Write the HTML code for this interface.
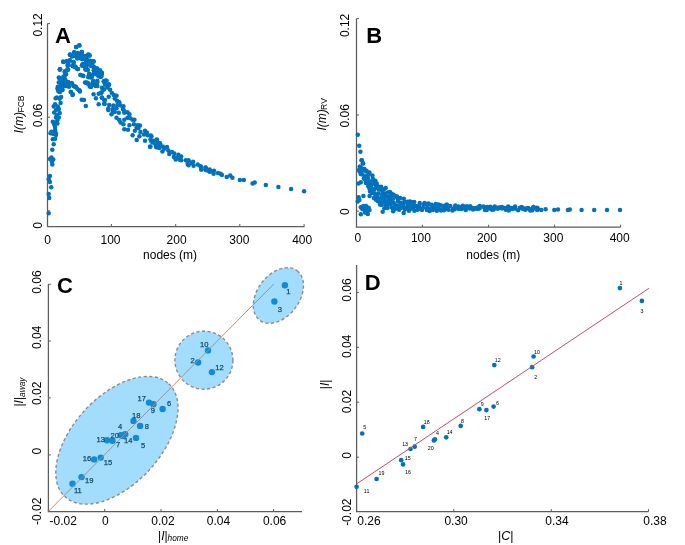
<!DOCTYPE html>
<html><head><meta charset="utf-8"><style>
html,body{margin:0;padding:0;background:#fff;}
svg{display:block;will-change:transform;font-family:"Liberation Sans",sans-serif;}
</style></head><body>
<svg width="685" height="545" viewBox="0 0 685 545">
<rect width="685" height="545" fill="#fff"/>
<path d="M47.5,23.5 V226.5 H304.5" fill="none" stroke="#5c5c5c" stroke-width="1.25"/>
<line x1="47.50" y1="226.50" x2="47.50" y2="224.00" stroke="#5c5c5c" stroke-width="1" />
<line x1="111.40" y1="226.50" x2="111.40" y2="224.00" stroke="#5c5c5c" stroke-width="1" />
<line x1="175.70" y1="226.50" x2="175.70" y2="224.00" stroke="#5c5c5c" stroke-width="1" />
<line x1="239.80" y1="226.50" x2="239.80" y2="224.00" stroke="#5c5c5c" stroke-width="1" />
<line x1="304.10" y1="226.50" x2="304.10" y2="224.00" stroke="#5c5c5c" stroke-width="1" />
<line x1="47.50" y1="23.60" x2="50.00" y2="23.60" stroke="#5c5c5c" stroke-width="1" />
<line x1="47.50" y1="117.20" x2="50.00" y2="117.20" stroke="#5c5c5c" stroke-width="1" />
<line x1="47.50" y1="210.80" x2="50.00" y2="210.80" stroke="#5c5c5c" stroke-width="1" />
<text x="47.60" y="244.40" font-size="12" text-anchor="middle" font-weight="normal" font-style="normal" fill="#000" >0</text>
<text x="110.50" y="244.40" font-size="12" text-anchor="middle" font-weight="normal" font-style="normal" fill="#000" >100</text>
<text x="176.60" y="244.40" font-size="12" text-anchor="middle" font-weight="normal" font-style="normal" fill="#000" >200</text>
<text x="239.30" y="244.40" font-size="12" text-anchor="middle" font-weight="normal" font-style="normal" fill="#000" >300</text>
<text x="302.20" y="244.40" font-size="12" text-anchor="middle" font-weight="normal" font-style="normal" fill="#000" >400</text>
<text x="170.10" y="258.60" font-size="12" text-anchor="middle" font-weight="normal" font-style="normal" fill="#000" >nodes (m)</text>
<text transform="translate(41.80,24.90) rotate(-90)" font-size="12" text-anchor="middle" font-weight="normal" font-style="normal" fill="#000" >0.12</text>
<text transform="translate(41.80,115.60) rotate(-90)" font-size="12" text-anchor="middle" font-weight="normal" font-style="normal" fill="#000" >0.06</text>
<text transform="translate(41.80,225.40) rotate(-90)" font-size="12" text-anchor="middle" font-weight="normal" font-style="normal" fill="#000" >0</text>
<text transform="translate(22.6,133.3) rotate(-90)" font-size="12"><tspan font-style="italic">I(m)</tspan><tspan font-size="8.6" dx="-0.6" dy="1.1">FCB</tspan></text>
<text x="55.00" y="42.80" font-size="22" text-anchor="start" font-weight="bold" font-style="normal" fill="#000" >A</text>
<path d="M356.5,18.6 V227.2 H620.6" fill="none" stroke="#5c5c5c" stroke-width="1.25"/>
<line x1="356.50" y1="227.20" x2="356.50" y2="224.70" stroke="#5c5c5c" stroke-width="1" />
<line x1="422.40" y1="227.20" x2="422.40" y2="224.70" stroke="#5c5c5c" stroke-width="1" />
<line x1="488.60" y1="227.20" x2="488.60" y2="224.70" stroke="#5c5c5c" stroke-width="1" />
<line x1="554.60" y1="227.20" x2="554.60" y2="224.70" stroke="#5c5c5c" stroke-width="1" />
<line x1="620.60" y1="227.20" x2="620.60" y2="224.70" stroke="#5c5c5c" stroke-width="1" />
<line x1="356.50" y1="18.60" x2="359.00" y2="18.60" stroke="#5c5c5c" stroke-width="1" />
<line x1="356.50" y1="115.00" x2="359.00" y2="115.00" stroke="#5c5c5c" stroke-width="1" />
<line x1="356.50" y1="211.20" x2="359.00" y2="211.20" stroke="#5c5c5c" stroke-width="1" />
<text x="357.90" y="242.30" font-size="12" text-anchor="middle" font-weight="normal" font-style="normal" fill="#000" >0</text>
<text x="420.90" y="242.30" font-size="12" text-anchor="middle" font-weight="normal" font-style="normal" fill="#000" >100</text>
<text x="486.90" y="242.30" font-size="12" text-anchor="middle" font-weight="normal" font-style="normal" fill="#000" >200</text>
<text x="553.30" y="242.30" font-size="12" text-anchor="middle" font-weight="normal" font-style="normal" fill="#000" >300</text>
<text x="619.70" y="242.30" font-size="12" text-anchor="middle" font-weight="normal" font-style="normal" fill="#000" >400</text>
<text x="493.30" y="258.90" font-size="12" text-anchor="middle" font-weight="normal" font-style="normal" fill="#000" >nodes (m)</text>
<text transform="translate(348.80,25.40) rotate(-90)" font-size="12" text-anchor="middle" font-weight="normal" font-style="normal" fill="#000" >0.12</text>
<text transform="translate(348.80,115.80) rotate(-90)" font-size="12" text-anchor="middle" font-weight="normal" font-style="normal" fill="#000" >0.06</text>
<text transform="translate(348.80,211.70) rotate(-90)" font-size="12" text-anchor="middle" font-weight="normal" font-style="normal" fill="#000" >0</text>
<text transform="translate(326.3,130.6) rotate(-90)" font-size="12"><tspan font-style="italic">I(m)</tspan><tspan font-size="8.6" dx="-0.6" dy="1.1">RV</tspan></text>
<text x="366.30" y="42.80" font-size="22" text-anchor="start" font-weight="bold" font-style="normal" fill="#000" >B</text>
<g fill="#0072BD"><circle cx="76.2" cy="46.9" r="2.25"/><circle cx="79.4" cy="45.3" r="2.25"/><circle cx="69.8" cy="54.7" r="2.25"/><circle cx="74.4" cy="52.4" r="2.25"/><circle cx="77.6" cy="53.8" r="2.25"/><circle cx="81.7" cy="51.9" r="2.25"/><circle cx="72.5" cy="56.1" r="2.25"/><circle cx="76.2" cy="56.5" r="2.25"/><circle cx="79.9" cy="55.6" r="2.25"/><circle cx="83.5" cy="56.5" r="2.25"/><circle cx="88.1" cy="54.7" r="2.25"/><circle cx="85.8" cy="56.1" r="2.25"/><circle cx="63.3" cy="61.6" r="2.25"/><circle cx="67.0" cy="61.1" r="2.25"/><circle cx="69.8" cy="60.2" r="2.25"/><circle cx="67.9" cy="63.9" r="2.25"/><circle cx="73.4" cy="62.0" r="2.25"/><circle cx="82.6" cy="59.3" r="2.25"/><circle cx="87.2" cy="60.2" r="2.25"/><circle cx="90.0" cy="62.0" r="2.25"/><circle cx="93.2" cy="61.6" r="2.25"/><circle cx="82.6" cy="64.3" r="2.25"/><circle cx="86.3" cy="65.7" r="2.25"/><circle cx="90.9" cy="65.7" r="2.25"/><circle cx="93.6" cy="67.5" r="2.25"/><circle cx="96.4" cy="68.4" r="2.25"/><circle cx="100.0" cy="70.3" r="2.25"/><circle cx="101.9" cy="73.9" r="2.25"/><circle cx="59.7" cy="69.4" r="2.25"/><circle cx="67.9" cy="69.4" r="2.25"/><circle cx="64.7" cy="72.1" r="2.25"/><circle cx="75.3" cy="66.6" r="2.25"/><circle cx="77.6" cy="68.9" r="2.25"/><circle cx="85.4" cy="69.4" r="2.25"/><circle cx="80.8" cy="74.9" r="2.25"/><circle cx="83.1" cy="75.8" r="2.25"/><circle cx="89.0" cy="74.9" r="2.25"/><circle cx="90.9" cy="77.6" r="2.25"/><circle cx="93.6" cy="73.9" r="2.25"/><circle cx="96.4" cy="72.1" r="2.25"/><circle cx="98.2" cy="75.8" r="2.25"/><circle cx="100.0" cy="76.7" r="2.25"/><circle cx="58.8" cy="77.6" r="2.25"/><circle cx="63.3" cy="76.7" r="2.25"/><circle cx="59.7" cy="82.2" r="2.25"/><circle cx="63.3" cy="81.3" r="2.25"/><circle cx="67.9" cy="82.2" r="2.25"/><circle cx="71.6" cy="83.1" r="2.25"/><circle cx="57.8" cy="86.8" r="2.25"/><circle cx="61.5" cy="85.0" r="2.25"/><circle cx="65.2" cy="85.9" r="2.25"/><circle cx="75.3" cy="86.8" r="2.25"/><circle cx="86.3" cy="82.7" r="2.25"/><circle cx="90.9" cy="86.8" r="2.25"/><circle cx="94.5" cy="85.0" r="2.25"/><circle cx="97.3" cy="82.2" r="2.25"/><circle cx="103.7" cy="81.3" r="2.25"/><circle cx="101.9" cy="87.7" r="2.25"/><circle cx="76.1" cy="47.0" r="2.25"/><circle cx="79.3" cy="45.5" r="2.25"/><circle cx="70.0" cy="54.6" r="2.25"/><circle cx="74.1" cy="52.2" r="2.25"/><circle cx="77.9" cy="53.1" r="2.25"/><circle cx="81.9" cy="51.9" r="2.25"/><circle cx="72.0" cy="56.6" r="2.25"/><circle cx="75.5" cy="56.0" r="2.25"/><circle cx="79.0" cy="56.0" r="2.25"/><circle cx="82.5" cy="55.4" r="2.25"/><circle cx="84.9" cy="56.6" r="2.25"/><circle cx="88.4" cy="54.6" r="2.25"/><circle cx="89.8" cy="55.4" r="2.25"/><circle cx="80.8" cy="58.4" r="2.25"/><circle cx="77.3" cy="58.4" r="2.25"/><circle cx="63.3" cy="61.9" r="2.25"/><circle cx="66.8" cy="61.3" r="2.25"/><circle cx="69.7" cy="60.7" r="2.25"/><circle cx="67.9" cy="63.6" r="2.25"/><circle cx="68.5" cy="65.1" r="2.25"/><circle cx="73.8" cy="62.4" r="2.25"/><circle cx="83.1" cy="64.2" r="2.25"/><circle cx="81.9" cy="65.4" r="2.25"/><circle cx="86.0" cy="60.7" r="2.25"/><circle cx="88.9" cy="60.7" r="2.25"/><circle cx="93.0" cy="61.3" r="2.25"/><circle cx="85.4" cy="65.4" r="2.25"/><circle cx="89.5" cy="64.2" r="2.25"/><circle cx="91.9" cy="65.4" r="2.25"/><circle cx="93.6" cy="66.5" r="2.25"/><circle cx="72.6" cy="65.4" r="2.25"/><circle cx="75.5" cy="67.1" r="2.25"/><circle cx="77.9" cy="68.9" r="2.25"/><circle cx="86.0" cy="68.6" r="2.25"/><circle cx="87.8" cy="70.0" r="2.25"/><circle cx="60.3" cy="69.2" r="2.25"/><circle cx="67.3" cy="69.4" r="2.25"/><circle cx="65.0" cy="71.2" r="2.25"/><circle cx="94.2" cy="68.9" r="2.25"/><circle cx="96.0" cy="70.0" r="2.25"/><circle cx="59.9" cy="69.4" r="2.25"/><circle cx="68.1" cy="69.7" r="2.25"/><circle cx="65.2" cy="72.3" r="2.25"/><circle cx="66.1" cy="74.3" r="2.25"/><circle cx="64.6" cy="76.1" r="2.25"/><circle cx="59.3" cy="78.1" r="2.25"/><circle cx="62.8" cy="78.4" r="2.25"/><circle cx="65.2" cy="79.6" r="2.25"/><circle cx="58.8" cy="82.5" r="2.25"/><circle cx="61.7" cy="81.9" r="2.25"/><circle cx="68.1" cy="81.9" r="2.25"/><circle cx="64.0" cy="83.7" r="2.25"/><circle cx="66.4" cy="84.9" r="2.25"/><circle cx="69.3" cy="85.4" r="2.25"/><circle cx="72.2" cy="83.7" r="2.25"/><circle cx="57.6" cy="88.4" r="2.25"/><circle cx="60.5" cy="87.2" r="2.25"/><circle cx="62.3" cy="90.1" r="2.25"/><circle cx="59.9" cy="91.9" r="2.25"/><circle cx="58.2" cy="90.7" r="2.25"/><circle cx="75.1" cy="86.6" r="2.25"/><circle cx="77.4" cy="88.9" r="2.25"/><circle cx="79.8" cy="90.7" r="2.25"/><circle cx="71.0" cy="91.9" r="2.25"/><circle cx="72.8" cy="94.2" r="2.25"/><circle cx="80.4" cy="74.9" r="2.25"/><circle cx="83.3" cy="76.1" r="2.25"/><circle cx="85.0" cy="82.5" r="2.25"/><circle cx="88.0" cy="83.7" r="2.25"/><circle cx="86.2" cy="69.7" r="2.25"/><circle cx="85.0" cy="66.8" r="2.25"/><circle cx="82.1" cy="65.6" r="2.25"/><circle cx="77.4" cy="69.1" r="2.25"/><circle cx="75.1" cy="67.3" r="2.25"/><circle cx="72.8" cy="66.2" r="2.25"/><circle cx="67.5" cy="65.6" r="2.25"/><circle cx="89.1" cy="73.8" r="2.25"/><circle cx="88.5" cy="76.7" r="2.25"/><circle cx="89.7" cy="86.6" r="2.25"/><circle cx="89.1" cy="55.6" r="2.25"/><circle cx="86.2" cy="57.3" r="2.25"/><circle cx="87.3" cy="60.8" r="2.25"/><circle cx="90.3" cy="60.8" r="2.25"/><circle cx="93.8" cy="61.4" r="2.25"/><circle cx="92.0" cy="63.8" r="2.25"/><circle cx="86.2" cy="63.2" r="2.25"/><circle cx="90.8" cy="65.5" r="2.25"/><circle cx="93.8" cy="67.3" r="2.25"/><circle cx="97.3" cy="68.4" r="2.25"/><circle cx="86.2" cy="66.7" r="2.25"/><circle cx="87.3" cy="69.6" r="2.25"/><circle cx="93.8" cy="70.2" r="2.25"/><circle cx="96.7" cy="71.4" r="2.25"/><circle cx="99.6" cy="71.9" r="2.25"/><circle cx="101.9" cy="73.1" r="2.25"/><circle cx="89.7" cy="74.3" r="2.25"/><circle cx="88.5" cy="77.2" r="2.25"/><circle cx="92.0" cy="76.6" r="2.25"/><circle cx="96.1" cy="74.3" r="2.25"/><circle cx="98.4" cy="75.4" r="2.25"/><circle cx="101.4" cy="76.6" r="2.25"/><circle cx="93.2" cy="80.7" r="2.25"/><circle cx="92.6" cy="83.0" r="2.25"/><circle cx="97.3" cy="80.7" r="2.25"/><circle cx="96.7" cy="83.6" r="2.25"/><circle cx="104.3" cy="81.3" r="2.25"/><circle cx="106.6" cy="80.7" r="2.25"/><circle cx="108.9" cy="84.2" r="2.25"/><circle cx="86.8" cy="82.4" r="2.25"/><circle cx="88.5" cy="83.6" r="2.25"/><circle cx="57.8" cy="88.7" r="2.25"/><circle cx="60.6" cy="86.8" r="2.25"/><circle cx="62.4" cy="90.0" r="2.25"/><circle cx="58.8" cy="91.4" r="2.25"/><circle cx="63.3" cy="86.4" r="2.25"/><circle cx="67.0" cy="85.9" r="2.25"/><circle cx="68.9" cy="86.8" r="2.25"/><circle cx="73.4" cy="85.9" r="2.25"/><circle cx="76.2" cy="87.3" r="2.25"/><circle cx="79.0" cy="90.0" r="2.25"/><circle cx="79.9" cy="91.4" r="2.25"/><circle cx="70.7" cy="91.9" r="2.25"/><circle cx="72.5" cy="95.1" r="2.25"/><circle cx="56.9" cy="97.4" r="2.25"/><circle cx="61.1" cy="96.9" r="2.25"/><circle cx="59.7" cy="98.8" r="2.25"/><circle cx="55.6" cy="98.3" r="2.25"/><circle cx="60.6" cy="102.9" r="2.25"/><circle cx="55.1" cy="104.3" r="2.25"/><circle cx="53.7" cy="106.6" r="2.25"/><circle cx="57.8" cy="106.6" r="2.25"/><circle cx="58.8" cy="108.9" r="2.25"/><circle cx="54.2" cy="112.5" r="2.25"/><circle cx="59.7" cy="113.0" r="2.25"/><circle cx="56.9" cy="115.3" r="2.25"/><circle cx="56.0" cy="117.6" r="2.25"/><circle cx="58.8" cy="117.6" r="2.25"/><circle cx="52.8" cy="121.7" r="2.25"/><circle cx="55.1" cy="122.6" r="2.25"/><circle cx="57.4" cy="123.5" r="2.25"/><circle cx="54.2" cy="124.4" r="2.25"/><circle cx="55.1" cy="130.0" r="2.25"/><circle cx="51.4" cy="131.8" r="2.25"/><circle cx="54.2" cy="132.7" r="2.25"/><circle cx="56.0" cy="133.6" r="2.25"/><circle cx="81.7" cy="99.7" r="2.25"/><circle cx="84.0" cy="100.1" r="2.25"/><circle cx="85.8" cy="106.1" r="2.25"/><circle cx="90.9" cy="86.8" r="2.25"/><circle cx="95.5" cy="85.9" r="2.25"/><circle cx="97.3" cy="85.9" r="2.25"/><circle cx="93.6" cy="94.2" r="2.25"/><circle cx="98.7" cy="93.7" r="2.25"/><circle cx="101.4" cy="92.8" r="2.25"/><circle cx="103.7" cy="89.6" r="2.25"/><circle cx="95.9" cy="98.3" r="2.25"/><circle cx="101.9" cy="97.8" r="2.25"/><circle cx="104.2" cy="100.1" r="2.25"/><circle cx="98.7" cy="104.3" r="2.25"/><circle cx="104.2" cy="103.8" r="2.25"/><circle cx="56.0" cy="110.0" r="2.25"/><circle cx="57.5" cy="120.0" r="2.25"/><circle cx="55.0" cy="127.0" r="2.25"/><circle cx="50.5" cy="133.2" r="2.25"/><circle cx="53.3" cy="134.1" r="2.25"/><circle cx="56.0" cy="135.0" r="2.25"/><circle cx="55.1" cy="130.9" r="2.25"/><circle cx="52.8" cy="139.2" r="2.25"/><circle cx="55.1" cy="138.7" r="2.25"/><circle cx="53.7" cy="144.2" r="2.25"/><circle cx="52.3" cy="149.7" r="2.25"/><circle cx="51.4" cy="157.5" r="2.25"/><circle cx="50.0" cy="158.9" r="2.25"/><circle cx="53.3" cy="159.4" r="2.25"/><circle cx="51.9" cy="161.7" r="2.25"/><circle cx="52.3" cy="164.4" r="2.25"/><circle cx="49.9" cy="176.0" r="2.25"/><circle cx="48.7" cy="179.2" r="2.25"/><circle cx="49.9" cy="181.9" r="2.25"/><circle cx="51.2" cy="187.2" r="2.25"/><circle cx="48.7" cy="193.9" r="2.25"/><circle cx="49.2" cy="198.0" r="2.25"/><circle cx="48.7" cy="213.3" r="2.25"/><circle cx="101.8" cy="72.8" r="2.25"/><circle cx="100.9" cy="76.5" r="2.25"/><circle cx="105.5" cy="80.6" r="2.25"/><circle cx="104.1" cy="82.0" r="2.25"/><circle cx="105.0" cy="84.8" r="2.25"/><circle cx="108.7" cy="85.2" r="2.25"/><circle cx="107.3" cy="87.5" r="2.25"/><circle cx="103.7" cy="89.4" r="2.25"/><circle cx="110.1" cy="89.8" r="2.25"/><circle cx="101.4" cy="92.6" r="2.25"/><circle cx="111.9" cy="93.0" r="2.25"/><circle cx="113.8" cy="94.9" r="2.25"/><circle cx="116.5" cy="95.8" r="2.25"/><circle cx="108.7" cy="96.7" r="2.25"/><circle cx="101.8" cy="97.6" r="2.25"/><circle cx="105.0" cy="99.9" r="2.25"/><circle cx="114.7" cy="98.5" r="2.25"/><circle cx="117.0" cy="100.8" r="2.25"/><circle cx="119.3" cy="102.2" r="2.25"/><circle cx="104.6" cy="104.0" r="2.25"/><circle cx="109.2" cy="105.0" r="2.25"/><circle cx="113.3" cy="105.4" r="2.25"/><circle cx="117.4" cy="105.0" r="2.25"/><circle cx="120.6" cy="105.4" r="2.25"/><circle cx="123.4" cy="106.3" r="2.25"/><circle cx="108.3" cy="108.6" r="2.25"/><circle cx="112.8" cy="109.1" r="2.25"/><circle cx="116.5" cy="108.2" r="2.25"/><circle cx="122.9" cy="109.1" r="2.25"/><circle cx="108.3" cy="110.0" r="2.25"/><circle cx="112.8" cy="111.0" r="2.25"/><circle cx="114.7" cy="111.9" r="2.25"/><circle cx="111.5" cy="114.2" r="2.25"/><circle cx="118.8" cy="112.8" r="2.25"/><circle cx="123.9" cy="110.5" r="2.25"/><circle cx="124.3" cy="112.8" r="2.25"/><circle cx="127.5" cy="112.3" r="2.25"/><circle cx="129.4" cy="114.2" r="2.25"/><circle cx="116.5" cy="117.8" r="2.25"/><circle cx="119.3" cy="120.1" r="2.25"/><circle cx="120.6" cy="122.4" r="2.25"/><circle cx="124.3" cy="119.7" r="2.25"/><circle cx="127.5" cy="117.8" r="2.25"/><circle cx="130.3" cy="118.3" r="2.25"/><circle cx="132.6" cy="119.7" r="2.25"/><circle cx="134.4" cy="119.7" r="2.25"/><circle cx="123.4" cy="124.3" r="2.25"/><circle cx="129.4" cy="125.2" r="2.25"/><circle cx="133.9" cy="124.3" r="2.25"/><circle cx="137.6" cy="125.2" r="2.25"/><circle cx="139.9" cy="125.6" r="2.25"/><circle cx="136.7" cy="127.5" r="2.25"/><circle cx="138.5" cy="127.9" r="2.25"/><circle cx="124.3" cy="129.3" r="2.25"/><circle cx="128.0" cy="129.8" r="2.25"/><circle cx="134.9" cy="130.7" r="2.25"/><circle cx="140.4" cy="132.1" r="2.25"/><circle cx="145.0" cy="130.7" r="2.25"/><circle cx="146.8" cy="132.5" r="2.25"/><circle cx="132.6" cy="135.3" r="2.25"/><circle cx="139.4" cy="136.2" r="2.25"/><circle cx="144.0" cy="134.4" r="2.25"/><circle cx="147.7" cy="135.3" r="2.25"/><circle cx="151.4" cy="136.2" r="2.25"/><circle cx="136.7" cy="139.9" r="2.25"/><circle cx="145.0" cy="140.8" r="2.25"/><circle cx="150.5" cy="139.4" r="2.25"/><circle cx="153.2" cy="140.8" r="2.25"/><circle cx="156.9" cy="139.9" r="2.25"/><circle cx="152.8" cy="142.6" r="2.25"/><circle cx="156.0" cy="143.5" r="2.25"/><circle cx="158.7" cy="143.1" r="2.25"/><circle cx="150.0" cy="146.7" r="2.25"/><circle cx="156.4" cy="147.2" r="2.25"/><circle cx="159.2" cy="148.1" r="2.25"/><circle cx="150.9" cy="135.5" r="2.25"/><circle cx="151.4" cy="141.5" r="2.25"/><circle cx="150.5" cy="146.5" r="2.25"/><circle cx="154.1" cy="141.0" r="2.25"/><circle cx="156.9" cy="139.6" r="2.25"/><circle cx="155.5" cy="144.7" r="2.25"/><circle cx="156.4" cy="147.0" r="2.25"/><circle cx="160.1" cy="143.3" r="2.25"/><circle cx="159.2" cy="147.0" r="2.25"/><circle cx="162.8" cy="146.5" r="2.25"/><circle cx="162.4" cy="151.6" r="2.25"/><circle cx="164.2" cy="148.8" r="2.25"/><circle cx="167.0" cy="147.0" r="2.25"/><circle cx="168.3" cy="150.6" r="2.25"/><circle cx="169.3" cy="153.9" r="2.25"/><circle cx="172.0" cy="152.0" r="2.25"/><circle cx="174.3" cy="153.4" r="2.25"/><circle cx="173.9" cy="157.1" r="2.25"/><circle cx="175.7" cy="159.4" r="2.25"/><circle cx="178.4" cy="154.8" r="2.25"/><circle cx="177.5" cy="157.5" r="2.25"/><circle cx="181.2" cy="156.6" r="2.25"/><circle cx="181.2" cy="160.3" r="2.25"/><circle cx="179.4" cy="159.4" r="2.25"/><circle cx="185.8" cy="160.3" r="2.25"/><circle cx="188.5" cy="160.3" r="2.25"/><circle cx="187.6" cy="163.9" r="2.25"/><circle cx="188.5" cy="165.3" r="2.25"/><circle cx="191.3" cy="163.0" r="2.25"/><circle cx="193.1" cy="161.7" r="2.25"/><circle cx="193.6" cy="165.8" r="2.25"/><circle cx="197.7" cy="164.4" r="2.25"/><circle cx="200.5" cy="166.2" r="2.25"/><circle cx="201.4" cy="169.4" r="2.25"/><circle cx="205.5" cy="167.6" r="2.25"/><circle cx="207.8" cy="170.4" r="2.25"/><circle cx="209.6" cy="171.7" r="2.25"/><circle cx="200.9" cy="166.8" r="2.25"/><circle cx="201.3" cy="169.5" r="2.25"/><circle cx="205.7" cy="167.7" r="2.25"/><circle cx="205.7" cy="169.9" r="2.25"/><circle cx="209.6" cy="169.5" r="2.25"/><circle cx="211.4" cy="171.2" r="2.25"/><circle cx="214.0" cy="170.8" r="2.25"/><circle cx="213.6" cy="173.8" r="2.25"/><circle cx="218.0" cy="173.0" r="2.25"/><circle cx="220.6" cy="173.8" r="2.25"/><circle cx="221.9" cy="175.1" r="2.25"/><circle cx="226.7" cy="176.9" r="2.25"/><circle cx="230.2" cy="175.6" r="2.25"/><circle cx="232.4" cy="177.8" r="2.25"/><circle cx="239.9" cy="180.0" r="2.25"/><circle cx="243.8" cy="180.0" r="2.25"/><circle cx="252.6" cy="183.5" r="2.25"/><circle cx="254.7" cy="182.6" r="2.25"/><circle cx="265.8" cy="185.1" r="2.25"/><circle cx="278.4" cy="187.0" r="2.25"/><circle cx="291.1" cy="189.1" r="2.25"/><circle cx="304.1" cy="191.3" r="2.25"/></g>
<g fill="#0072BD"><circle cx="361.6" cy="168.3" r="2.25"/><circle cx="359.7" cy="171.5" r="2.25"/><circle cx="361.5" cy="171.5" r="2.25"/><circle cx="366.1" cy="171.4" r="2.25"/><circle cx="362.4" cy="174.4" r="2.25"/><circle cx="366.4" cy="176.0" r="2.25"/><circle cx="368.7" cy="174.3" r="2.25"/><circle cx="364.9" cy="177.1" r="2.25"/><circle cx="367.9" cy="177.8" r="2.25"/><circle cx="372.8" cy="178.8" r="2.25"/><circle cx="365.6" cy="180.5" r="2.25"/><circle cx="369.4" cy="181.3" r="2.25"/><circle cx="373.0" cy="180.2" r="2.25"/><circle cx="375.1" cy="181.6" r="2.25"/><circle cx="369.1" cy="183.6" r="2.25"/><circle cx="371.8" cy="184.2" r="2.25"/><circle cx="375.1" cy="184.3" r="2.25"/><circle cx="368.3" cy="186.3" r="2.25"/><circle cx="371.2" cy="187.3" r="2.25"/><circle cx="375.9" cy="187.6" r="2.25"/><circle cx="378.2" cy="186.5" r="2.25"/><circle cx="380.6" cy="187.3" r="2.25"/><circle cx="372.3" cy="189.6" r="2.25"/><circle cx="374.4" cy="189.2" r="2.25"/><circle cx="378.9" cy="189.4" r="2.25"/><circle cx="381.2" cy="189.8" r="2.25"/><circle cx="383.8" cy="189.5" r="2.25"/><circle cx="372.3" cy="192.9" r="2.25"/><circle cx="374.5" cy="193.2" r="2.25"/><circle cx="378.2" cy="193.5" r="2.25"/><circle cx="382.4" cy="192.9" r="2.25"/><circle cx="384.9" cy="193.5" r="2.25"/><circle cx="387.8" cy="192.5" r="2.25"/><circle cx="391.6" cy="193.8" r="2.25"/><circle cx="375.5" cy="195.0" r="2.25"/><circle cx="377.4" cy="196.9" r="2.25"/><circle cx="381.9" cy="195.5" r="2.25"/><circle cx="384.0" cy="195.3" r="2.25"/><circle cx="387.5" cy="196.6" r="2.25"/><circle cx="390.9" cy="195.3" r="2.25"/><circle cx="395.2" cy="196.6" r="2.25"/><circle cx="396.9" cy="196.8" r="2.25"/><circle cx="375.8" cy="199.6" r="2.25"/><circle cx="378.5" cy="198.5" r="2.25"/><circle cx="381.2" cy="198.8" r="2.25"/><circle cx="384.4" cy="198.9" r="2.25"/><circle cx="388.3" cy="199.9" r="2.25"/><circle cx="390.3" cy="199.1" r="2.25"/><circle cx="393.5" cy="198.2" r="2.25"/><circle cx="398.2" cy="199.2" r="2.25"/><circle cx="379.3" cy="201.5" r="2.25"/><circle cx="381.8" cy="202.4" r="2.25"/><circle cx="384.7" cy="201.4" r="2.25"/><circle cx="387.5" cy="202.5" r="2.25"/><circle cx="391.8" cy="201.9" r="2.25"/><circle cx="393.6" cy="202.6" r="2.25"/><circle cx="398.1" cy="201.5" r="2.25"/><circle cx="401.0" cy="202.8" r="2.25"/><circle cx="404.8" cy="202.0" r="2.25"/><circle cx="407.2" cy="202.2" r="2.25"/><circle cx="409.8" cy="201.4" r="2.25"/><circle cx="413.0" cy="202.4" r="2.25"/><circle cx="381.5" cy="204.7" r="2.25"/><circle cx="385.4" cy="205.0" r="2.25"/><circle cx="388.3" cy="204.3" r="2.25"/><circle cx="390.6" cy="204.1" r="2.25"/><circle cx="394.8" cy="205.1" r="2.25"/><circle cx="396.9" cy="205.7" r="2.25"/><circle cx="400.3" cy="204.8" r="2.25"/><circle cx="403.3" cy="204.5" r="2.25"/><circle cx="407.9" cy="204.7" r="2.25"/><circle cx="409.7" cy="205.0" r="2.25"/><circle cx="413.2" cy="205.8" r="2.25"/><circle cx="416.0" cy="206.0" r="2.25"/><circle cx="419.1" cy="205.8" r="2.25"/><circle cx="423.5" cy="204.4" r="2.25"/><circle cx="426.4" cy="204.6" r="2.25"/><circle cx="429.1" cy="204.4" r="2.25"/><circle cx="432.5" cy="206.0" r="2.25"/><circle cx="437.0" cy="205.9" r="2.25"/><circle cx="438.4" cy="204.6" r="2.25"/><circle cx="391.6" cy="207.2" r="2.25"/><circle cx="395.1" cy="208.4" r="2.25"/><circle cx="396.7" cy="207.2" r="2.25"/><circle cx="400.8" cy="208.0" r="2.25"/><circle cx="403.6" cy="207.2" r="2.25"/><circle cx="407.0" cy="207.3" r="2.25"/><circle cx="410.6" cy="208.7" r="2.25"/><circle cx="412.9" cy="208.1" r="2.25"/><circle cx="417.3" cy="207.3" r="2.25"/><circle cx="420.7" cy="208.9" r="2.25"/><circle cx="423.0" cy="207.8" r="2.25"/><circle cx="427.1" cy="208.1" r="2.25"/><circle cx="429.4" cy="208.9" r="2.25"/><circle cx="433.4" cy="207.7" r="2.25"/><circle cx="435.5" cy="207.7" r="2.25"/><circle cx="439.1" cy="209.0" r="2.25"/><circle cx="443.0" cy="208.8" r="2.25"/><circle cx="446.2" cy="208.7" r="2.25"/><circle cx="447.9" cy="208.0" r="2.25"/><circle cx="452.9" cy="208.9" r="2.25"/><circle cx="454.7" cy="207.8" r="2.25"/><circle cx="458.7" cy="207.7" r="2.25"/><circle cx="461.7" cy="207.1" r="2.25"/><circle cx="464.7" cy="208.0" r="2.25"/><circle cx="467.0" cy="207.3" r="2.25"/><circle cx="472.1" cy="208.6" r="2.25"/><circle cx="475.3" cy="208.3" r="2.25"/><circle cx="478.2" cy="208.8" r="2.25"/><circle cx="484.3" cy="207.5" r="2.25"/><circle cx="487.6" cy="207.5" r="2.25"/><circle cx="490.5" cy="208.8" r="2.25"/><circle cx="493.8" cy="207.5" r="2.25"/><circle cx="496.8" cy="207.9" r="2.25"/><circle cx="500.9" cy="207.6" r="2.25"/><circle cx="502.8" cy="208.3" r="2.25"/><circle cx="505.6" cy="208.2" r="2.25"/><circle cx="510.5" cy="208.0" r="2.25"/><circle cx="512.3" cy="207.9" r="2.25"/><circle cx="522.0" cy="207.8" r="2.25"/><circle cx="528.0" cy="208.1" r="2.25"/><circle cx="532.7" cy="208.2" r="2.25"/><circle cx="535.3" cy="208.3" r="2.25"/><circle cx="537.8" cy="208.4" r="2.25"/><circle cx="427.1" cy="210.0" r="2.25"/><circle cx="360.3" cy="168.1" r="2.25"/><circle cx="362.9" cy="170.1" r="2.25"/><circle cx="366.5" cy="170.8" r="2.25"/><circle cx="369.4" cy="172.6" r="2.25"/><circle cx="372.4" cy="175.4" r="2.25"/><circle cx="375.3" cy="180.7" r="2.25"/><circle cx="376.7" cy="183.4" r="2.25"/><circle cx="381.2" cy="186.8" r="2.25"/><circle cx="385.7" cy="188.1" r="2.25"/><circle cx="390.0" cy="192.1" r="2.25"/><circle cx="393.5" cy="194.7" r="2.25"/><circle cx="396.8" cy="196.6" r="2.25"/><circle cx="400.1" cy="198.0" r="2.25"/><circle cx="403.8" cy="198.8" r="2.25"/><circle cx="407.4" cy="201.8" r="2.25"/><circle cx="411.1" cy="201.9" r="2.25"/><circle cx="414.2" cy="202.1" r="2.25"/><circle cx="419.7" cy="203.0" r="2.25"/><circle cx="424.6" cy="203.0" r="2.25"/><circle cx="428.4" cy="203.5" r="2.25"/><circle cx="431.8" cy="204.8" r="2.25"/><circle cx="435.8" cy="204.1" r="2.25"/><circle cx="440.8" cy="205.2" r="2.25"/><circle cx="444.5" cy="205.7" r="2.25"/><circle cx="446.8" cy="204.6" r="2.25"/><circle cx="450.3" cy="205.9" r="2.25"/><circle cx="455.3" cy="205.4" r="2.25"/><circle cx="458.6" cy="206.4" r="2.25"/><circle cx="462.9" cy="205.8" r="2.25"/><circle cx="466.9" cy="206.3" r="2.25"/><circle cx="470.3" cy="206.2" r="2.25"/><circle cx="472.7" cy="208.0" r="2.25"/><circle cx="477.5" cy="207.6" r="2.25"/><circle cx="479.6" cy="206.0" r="2.25"/><circle cx="483.3" cy="206.5" r="2.25"/><circle cx="487.1" cy="207.0" r="2.25"/><circle cx="490.1" cy="206.8" r="2.25"/><circle cx="494.8" cy="206.6" r="2.25"/><circle cx="498.7" cy="207.6" r="2.25"/><circle cx="501.9" cy="206.9" r="2.25"/><circle cx="504.9" cy="207.9" r="2.25"/><circle cx="508.2" cy="206.4" r="2.25"/><circle cx="512.7" cy="208.3" r="2.25"/><circle cx="515.1" cy="206.6" r="2.25"/><circle cx="519.7" cy="208.0" r="2.25"/><circle cx="521.6" cy="207.1" r="2.25"/><circle cx="525.2" cy="208.5" r="2.25"/><circle cx="528.9" cy="208.8" r="2.25"/><circle cx="533.5" cy="206.9" r="2.25"/><circle cx="536.9" cy="207.7" r="2.25"/><circle cx="359.5" cy="170.8" r="2.25"/><circle cx="360.6" cy="174.0" r="2.25"/><circle cx="363.9" cy="178.6" r="2.25"/><circle cx="365.9" cy="183.0" r="2.25"/><circle cx="369.5" cy="188.8" r="2.25"/><circle cx="370.0" cy="191.6" r="2.25"/><circle cx="369.6" cy="196.0" r="2.25"/><circle cx="373.9" cy="198.0" r="2.25"/><circle cx="377.6" cy="200.9" r="2.25"/><circle cx="380.0" cy="204.4" r="2.25"/><circle cx="384.4" cy="208.2" r="2.25"/><circle cx="387.5" cy="208.1" r="2.25"/><circle cx="392.9" cy="208.8" r="2.25"/><circle cx="396.1" cy="208.6" r="2.25"/><circle cx="399.1" cy="209.7" r="2.25"/><circle cx="404.8" cy="209.5" r="2.25"/><circle cx="409.6" cy="209.6" r="2.25"/><circle cx="414.4" cy="210.8" r="2.25"/><circle cx="417.5" cy="209.7" r="2.25"/><circle cx="422.0" cy="210.1" r="2.25"/><circle cx="426.9" cy="209.7" r="2.25"/><circle cx="429.6" cy="210.9" r="2.25"/><circle cx="432.9" cy="210.1" r="2.25"/><circle cx="436.9" cy="210.7" r="2.25"/><circle cx="441.0" cy="210.5" r="2.25"/><circle cx="443.9" cy="210.2" r="2.25"/><circle cx="448.4" cy="209.7" r="2.25"/><circle cx="452.4" cy="210.5" r="2.25"/><circle cx="454.7" cy="209.2" r="2.25"/><circle cx="458.8" cy="208.9" r="2.25"/><circle cx="461.8" cy="209.1" r="2.25"/><circle cx="465.8" cy="210.0" r="2.25"/><circle cx="469.9" cy="208.6" r="2.25"/><circle cx="473.1" cy="209.4" r="2.25"/><circle cx="476.7" cy="208.7" r="2.25"/><circle cx="479.6" cy="208.3" r="2.25"/><circle cx="485.0" cy="210.1" r="2.25"/><circle cx="486.7" cy="210.0" r="2.25"/><circle cx="492.0" cy="209.7" r="2.25"/><circle cx="493.7" cy="209.5" r="2.25"/><circle cx="497.9" cy="208.8" r="2.25"/><circle cx="501.6" cy="208.3" r="2.25"/><circle cx="505.8" cy="209.8" r="2.25"/><circle cx="508.8" cy="210.5" r="2.25"/><circle cx="512.3" cy="208.9" r="2.25"/><circle cx="515.0" cy="208.6" r="2.25"/><circle cx="518.1" cy="210.2" r="2.25"/><circle cx="523.2" cy="209.0" r="2.25"/><circle cx="525.4" cy="209.8" r="2.25"/><circle cx="530.2" cy="210.5" r="2.25"/><circle cx="532.3" cy="210.2" r="2.25"/><circle cx="537.2" cy="210.1" r="2.25"/><circle cx="357.8" cy="134.7" r="2.25"/><circle cx="359.2" cy="145.8" r="2.25"/><circle cx="360.4" cy="151.8" r="2.25"/><circle cx="361.7" cy="160.3" r="2.25"/><circle cx="363.1" cy="163.4" r="2.25"/><circle cx="359.8" cy="166.7" r="2.25"/><circle cx="364.4" cy="169.1" r="2.25"/><circle cx="361.5" cy="168.7" r="2.25"/><circle cx="361.6" cy="160.3" r="2.25"/><circle cx="362.9" cy="163.3" r="2.25"/><circle cx="359.9" cy="166.8" r="2.25"/><circle cx="359.0" cy="169.9" r="2.25"/><circle cx="358.6" cy="183.5" r="2.25"/><circle cx="360.8" cy="182.2" r="2.25"/><circle cx="363.4" cy="196.0" r="2.25"/><circle cx="358.6" cy="197.3" r="2.25"/><circle cx="359.4" cy="199.9" r="2.25"/><circle cx="357.7" cy="201.6" r="2.25"/><circle cx="360.8" cy="207.3" r="2.25"/><circle cx="363.4" cy="206.0" r="2.25"/><circle cx="366.0" cy="206.0" r="2.25"/><circle cx="368.6" cy="207.8" r="2.25"/><circle cx="369.5" cy="210.0" r="2.25"/><circle cx="366.9" cy="212.2" r="2.25"/><circle cx="367.8" cy="213.9" r="2.25"/><circle cx="365.1" cy="212.6" r="2.25"/><circle cx="363.8" cy="207.8" r="2.25"/><circle cx="365.5" cy="209.5" r="2.25"/><circle cx="362.5" cy="209.2" r="2.25"/><circle cx="367.0" cy="210.5" r="2.25"/><circle cx="360.8" cy="214.3" r="2.25"/><circle cx="382.7" cy="211.7" r="2.25"/><circle cx="393.2" cy="211.3" r="2.25"/><circle cx="403.7" cy="213.0" r="2.25"/><circle cx="408.9" cy="210.8" r="2.25"/><circle cx="541.2" cy="209.9" r="2.25"/><circle cx="545.6" cy="209.3" r="2.25"/><circle cx="554.3" cy="209.9" r="2.25"/><circle cx="558.0" cy="209.6" r="2.25"/><circle cx="567.9" cy="209.9" r="2.25"/><circle cx="569.8" cy="209.6" r="2.25"/><circle cx="581.6" cy="209.9" r="2.25"/><circle cx="594.2" cy="209.9" r="2.25"/><circle cx="607.0" cy="209.9" r="2.25"/><circle cx="620.0" cy="209.9" r="2.25"/></g>
<path d="M48.4,283.9 V511.5 H302" fill="none" stroke="#5c5c5c" stroke-width="1.25"/>
<line x1="48.40" y1="511.50" x2="48.40" y2="509.00" stroke="#5c5c5c" stroke-width="1" />
<line x1="104.70" y1="511.50" x2="104.70" y2="509.00" stroke="#5c5c5c" stroke-width="1" />
<line x1="161.00" y1="511.50" x2="161.00" y2="509.00" stroke="#5c5c5c" stroke-width="1" />
<line x1="217.40" y1="511.50" x2="217.40" y2="509.00" stroke="#5c5c5c" stroke-width="1" />
<line x1="273.50" y1="511.50" x2="273.50" y2="509.00" stroke="#5c5c5c" stroke-width="1" />
<line x1="48.40" y1="284.30" x2="50.90" y2="284.30" stroke="#5c5c5c" stroke-width="1" />
<line x1="48.40" y1="341.00" x2="50.90" y2="341.00" stroke="#5c5c5c" stroke-width="1" />
<line x1="48.40" y1="397.90" x2="50.90" y2="397.90" stroke="#5c5c5c" stroke-width="1" />
<line x1="48.40" y1="454.90" x2="50.90" y2="454.90" stroke="#5c5c5c" stroke-width="1" />
<text x="63.20" y="525.10" font-size="12" text-anchor="middle" font-weight="normal" font-style="normal" fill="#000" >-0.02</text>
<text x="105.40" y="525.10" font-size="12" text-anchor="middle" font-weight="normal" font-style="normal" fill="#000" >0</text>
<text x="163.00" y="525.10" font-size="12" text-anchor="middle" font-weight="normal" font-style="normal" fill="#000" >0.02</text>
<text x="218.50" y="525.10" font-size="12" text-anchor="middle" font-weight="normal" font-style="normal" fill="#000" >0.04</text>
<text x="274.60" y="525.10" font-size="12" text-anchor="middle" font-weight="normal" font-style="normal" fill="#000" >0.06</text>
<text transform="translate(41.10,282.00) rotate(-90)" font-size="12" text-anchor="middle" font-weight="normal" font-style="normal" fill="#000" >0.06</text>
<text transform="translate(41.10,337.40) rotate(-90)" font-size="12" text-anchor="middle" font-weight="normal" font-style="normal" fill="#000" >0.04</text>
<text transform="translate(41.10,393.30) rotate(-90)" font-size="12" text-anchor="middle" font-weight="normal" font-style="normal" fill="#000" >0.02</text>
<text transform="translate(41.10,451.10) rotate(-90)" font-size="12" text-anchor="middle" font-weight="normal" font-style="normal" fill="#000" >0</text>
<text transform="translate(41.10,511.30) rotate(-90)" font-size="12" text-anchor="middle" font-weight="normal" font-style="normal" fill="#000" >-0.02</text>
<text x="158" y="539.5" font-size="12"><tspan>|</tspan><tspan font-style="italic">I</tspan><tspan>|</tspan><tspan font-size="8.3" font-style="italic" dy="1.8">home</tspan></text>
<text transform="translate(23.0,406.5) rotate(-90)" font-size="12"><tspan>|</tspan><tspan font-style="italic">I</tspan><tspan>|</tspan><tspan font-size="8.3" font-style="italic" dy="1.8">away</tspan></text>
<text x="56.90" y="293.00" font-size="22" text-anchor="start" font-weight="bold" font-style="normal" fill="#000" >C</text>
<g fill="#0072BD"><circle cx="284.9" cy="285.2" r="3.2"/><circle cx="274.4" cy="301.5" r="3.2"/><circle cx="208" cy="350.4" r="3.2"/><circle cx="198.1" cy="362.5" r="3.2"/><circle cx="211.9" cy="372.1" r="3.2"/><circle cx="149" cy="402.6" r="3.2"/><circle cx="153.4" cy="404.2" r="3.2"/><circle cx="162.6" cy="409" r="3.2"/><circle cx="133.5" cy="420.9" r="3.2"/><circle cx="140.1" cy="425.9" r="3.2"/><circle cx="125.2" cy="434.3" r="3.2"/><circle cx="120.8" cy="435.3" r="3.2"/><circle cx="123" cy="436" r="3.2"/><circle cx="136" cy="437.9" r="3.2"/><circle cx="107" cy="440.2" r="3.2"/><circle cx="112.5" cy="440.8" r="3.2"/><circle cx="94.1" cy="459.4" r="3.2"/><circle cx="100.7" cy="457.6" r="3.2"/><circle cx="81.5" cy="477.1" r="3.2"/><circle cx="72.5" cy="483.8" r="3.2"/></g>
<line x1="48.40" y1="511.40" x2="273.80" y2="284.00" stroke="#E98150" stroke-width="1" />
<g font-size="7.6" fill="#000" stroke="#000" stroke-width="0.25" text-anchor="middle"><text x="288.4" y="294.4">1</text><text x="279.9" y="311.9">3</text><text x="204.2" y="347.3">10</text><text x="192.6" y="362.5">2</text><text x="219.6" y="369.8">12</text><text x="141.8" y="401.1">17</text><text x="152.9" y="413.4">9</text><text x="169" y="405.7">6</text><text x="136.2" y="418.1">18</text><text x="146.9" y="429.0">8</text><text x="120.1" y="429.0">4</text><text x="114.7" y="437.6">20</text><text x="128.3" y="443.0">14</text><text x="143" y="447.8">5</text><text x="100.7" y="442.1">13</text><text x="118.2" y="447.4">7</text><text x="86.9" y="461.4">16</text><text x="107.9" y="464.8">15</text><text x="89.2" y="482.5">19</text><text x="77.9" y="492.8">11</text></g>
<ellipse cx="278.4" cy="295.5" rx="31" ry="21" transform="rotate(-53 278.4 295.5)" fill="rgba(36,174,252,0.42)" stroke="#8c8c8c" stroke-width="1.4" stroke-dasharray="3.2 2.4"/>
<ellipse cx="203.9" cy="360.2" rx="29" ry="29" transform="rotate(0 203.9 360.2)" fill="rgba(36,174,252,0.42)" stroke="#8c8c8c" stroke-width="1.4" stroke-dasharray="3.2 2.4"/>
<ellipse cx="116.9" cy="440.3" rx="76.7" ry="43.9" transform="rotate(-47.5 116.9 440.3)" fill="rgba(36,174,252,0.42)" stroke="#8c8c8c" stroke-width="1.4" stroke-dasharray="3.2 2.4"/>
<path d="M356.6,265 V511.6 H648.5" fill="none" stroke="#5c5c5c" stroke-width="1.25"/>
<line x1="356.60" y1="511.60" x2="356.60" y2="509.10" stroke="#5c5c5c" stroke-width="1" />
<line x1="453.80" y1="511.60" x2="453.80" y2="509.10" stroke="#5c5c5c" stroke-width="1" />
<line x1="551.30" y1="511.60" x2="551.30" y2="509.10" stroke="#5c5c5c" stroke-width="1" />
<line x1="648.50" y1="511.60" x2="648.50" y2="509.10" stroke="#5c5c5c" stroke-width="1" />
<line x1="356.60" y1="292.40" x2="359.10" y2="292.40" stroke="#5c5c5c" stroke-width="1" />
<line x1="356.60" y1="347.30" x2="359.10" y2="347.30" stroke="#5c5c5c" stroke-width="1" />
<line x1="356.60" y1="402.20" x2="359.10" y2="402.20" stroke="#5c5c5c" stroke-width="1" />
<line x1="356.60" y1="457.20" x2="359.10" y2="457.20" stroke="#5c5c5c" stroke-width="1" />
<text x="369.00" y="525.20" font-size="12" text-anchor="middle" font-weight="normal" font-style="normal" fill="#000" >0.26</text>
<text x="456.10" y="525.20" font-size="12" text-anchor="middle" font-weight="normal" font-style="normal" fill="#000" >0.30</text>
<text x="556.90" y="525.20" font-size="12" text-anchor="middle" font-weight="normal" font-style="normal" fill="#000" >0.34</text>
<text x="655.00" y="525.20" font-size="12" text-anchor="middle" font-weight="normal" font-style="normal" fill="#000" >0.38</text>
<text transform="translate(350.80,290.00) rotate(-90)" font-size="12" text-anchor="middle" font-weight="normal" font-style="normal" fill="#000" >0.06</text>
<text transform="translate(350.80,346.40) rotate(-90)" font-size="12" text-anchor="middle" font-weight="normal" font-style="normal" fill="#000" >0.04</text>
<text transform="translate(350.80,401.50) rotate(-90)" font-size="12" text-anchor="middle" font-weight="normal" font-style="normal" fill="#000" >0.02</text>
<text transform="translate(350.80,455.40) rotate(-90)" font-size="12" text-anchor="middle" font-weight="normal" font-style="normal" fill="#000" >0</text>
<text transform="translate(350.80,512.20) rotate(-90)" font-size="12" text-anchor="middle" font-weight="normal" font-style="normal" fill="#000" >-0.02</text>
<text x="498" y="539.5" font-size="12.5"><tspan>|</tspan><tspan font-style="italic">C</tspan><tspan>|</tspan></text>
<text transform="translate(328.6,384.4) rotate(-90)" font-size="12" text-anchor="middle"><tspan>|</tspan><tspan font-style="italic">I</tspan><tspan>|</tspan></text>
<text x="364.80" y="290.00" font-size="22" text-anchor="start" font-weight="bold" font-style="normal" fill="#000" >D</text>
<g fill="#0072BD"><circle cx="356.6" cy="486.8" r="2.35"/><circle cx="376.6" cy="479.0" r="2.35"/><circle cx="401.2" cy="460.2" r="2.35"/><circle cx="403.1" cy="464.4" r="2.35"/><circle cx="410.5" cy="449" r="2.35"/><circle cx="414.7" cy="446.7" r="2.35"/><circle cx="362.2" cy="433.5" r="2.35"/><circle cx="423.1" cy="426.9" r="2.35"/><circle cx="434.9" cy="439.4" r="2.35"/><circle cx="433.9" cy="440.4" r="2.35"/><circle cx="446.2" cy="437.3" r="2.35"/><circle cx="460.7" cy="425.9" r="2.35"/><circle cx="479.4" cy="409.2" r="2.35"/><circle cx="486.4" cy="410.1" r="2.35"/><circle cx="493.6" cy="406.6" r="2.35"/><circle cx="494.3" cy="365.1" r="2.35"/><circle cx="533.6" cy="356.5" r="2.35"/><circle cx="532.1" cy="367.2" r="2.35"/><circle cx="619.9" cy="288.1" r="2.35"/><circle cx="641.9" cy="300.9" r="2.35"/></g>
<line x1="356.60" y1="483.90" x2="648.90" y2="288.30" stroke="#C84A62" stroke-width="1" />
<g font-size="5.3" fill="#000" text-anchor="middle"><text x="366.6" y="493.0">11</text><text x="381.5" y="475.4">19</text><text x="407.8" y="459.6">15</text><text x="408" y="474.2">16</text><text x="405.1" y="445.6">13</text><text x="415.5" y="441.3">7</text><text x="364.8" y="428.8">5</text><text x="426.8" y="423.9">18</text><text x="437.4" y="434.5">4</text><text x="430.8" y="449.6">20</text><text x="449.6" y="433.8">14</text><text x="462.4" y="422.6">8</text><text x="482.2" y="405.6">9</text><text x="487.2" y="420.2">17</text><text x="497.6" y="405.2">6</text><text x="497.8" y="362.1">12</text><text x="536.9" y="353.5">10</text><text x="535.8" y="378.6">2</text><text x="621.1" y="284.7">1</text><text x="641.9" y="313.0">3</text></g>
</svg>
</body></html>
